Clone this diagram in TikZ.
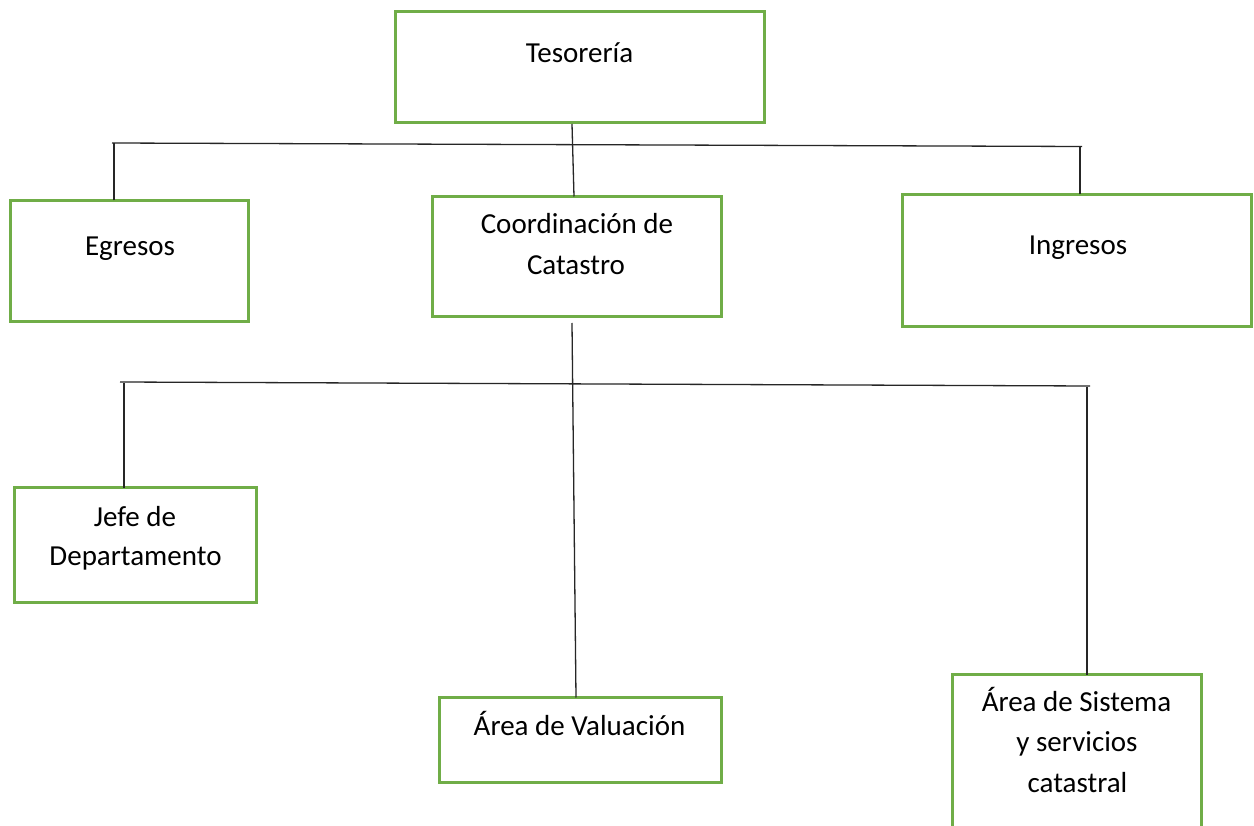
\documentclass[tikz,border=0pt]{standalone}
\usepackage{fontspec}
\setmainfont{Carlito}
\definecolor{boxgreen}{HTML}{70AD47}
\begin{document}
\begin{tikzpicture}[x=1pt,y=-1pt,
  orgbox/.style={draw=boxgreen, line width=3pt, inner sep=0pt, outer sep=0pt},
  conn/.style={draw=black!85, line width=1.3pt},
  txt/.style={font=\fontsize{29}{35}\selectfont, inner sep=0pt, anchor=base, text=black}]
\clip (0,0) rectangle (1254,826);
\fill[white] (0,0) rectangle (1254,826);
% boxes
\node[orgbox, minimum width=369pt, minimum height=111pt] (tes) at (580,67) {};
\node[orgbox, minimum width=238pt, minimum height=121pt] (egr) at (129.5,261) {};
\node[orgbox, minimum width=289pt, minimum height=120pt] (coo) at (577,256.5) {};
\node[orgbox, minimum width=349pt, minimum height=132pt] (ing) at (1077,260.5) {};
\node[orgbox, minimum width=242pt, minimum height=115pt] (jef) at (135.5,545) {};
\node[orgbox, minimum width=282pt, minimum height=85pt] (val) at (580.5,740) {};
\node[orgbox, minimum width=249pt, minimum height=205.5pt] (sis) at (1077,777.25) {};
% texts
\node[txt] (ttes) at (579.5,63) {Tesorería};
\node[txt] (tegr) at (130,256) {Egresos};
\node[txt] (tcoo1) at (577,234) {Coordinación de};
\node[txt] (tcoo2) at (576,275) {Catastro};
\node[txt] (ting) at (1078,255) {Ingresos};
\node[txt] (tjef1) at (135,526) {Jefe de};
\node[txt] (tjef2) at (135.5,565) {Departamento};
\node[txt] (tval) at (579.5,735) {Área de Valuación};
\node[txt] (tsis1) at (1076.5,711) {Área de Sistema};
\node[txt] (tsis2) at (1077,751) {y servicios};
\node[txt] (tsis3) at (1077.5,792) {catastral};
% buses
\coordinate (b1L) at (112,143);
\coordinate (b1R) at (1082,146.5);
\coordinate (b2L) at (120,382);
\coordinate (b2R) at (1090,386);
\draw[conn] (b1L) -- (b1R);
\draw[conn] (b2L) -- (b2R);
% connectors
\draw[conn] ([xshift=-8pt,yshift=-1.5pt]tes.south) -- ([xshift=-3pt]coo.north);
\draw[conn] ([xshift=-15.5pt]egr.north) -- ++(0,-57);
\draw[conn] ([xshift=3pt]ing.north) -- ++(0,-47);
\draw[conn] ([xshift=-5pt,yshift=-6.5pt]coo.south) -- ([xshift=-4.5pt]val.north);
\draw[conn] ([xshift=-11.5pt]jef.north) -- ++(0,-104);
\draw[conn] ([xshift=10pt]sis.north) -- ++(0,-287);
\end{tikzpicture}
\end{document}
